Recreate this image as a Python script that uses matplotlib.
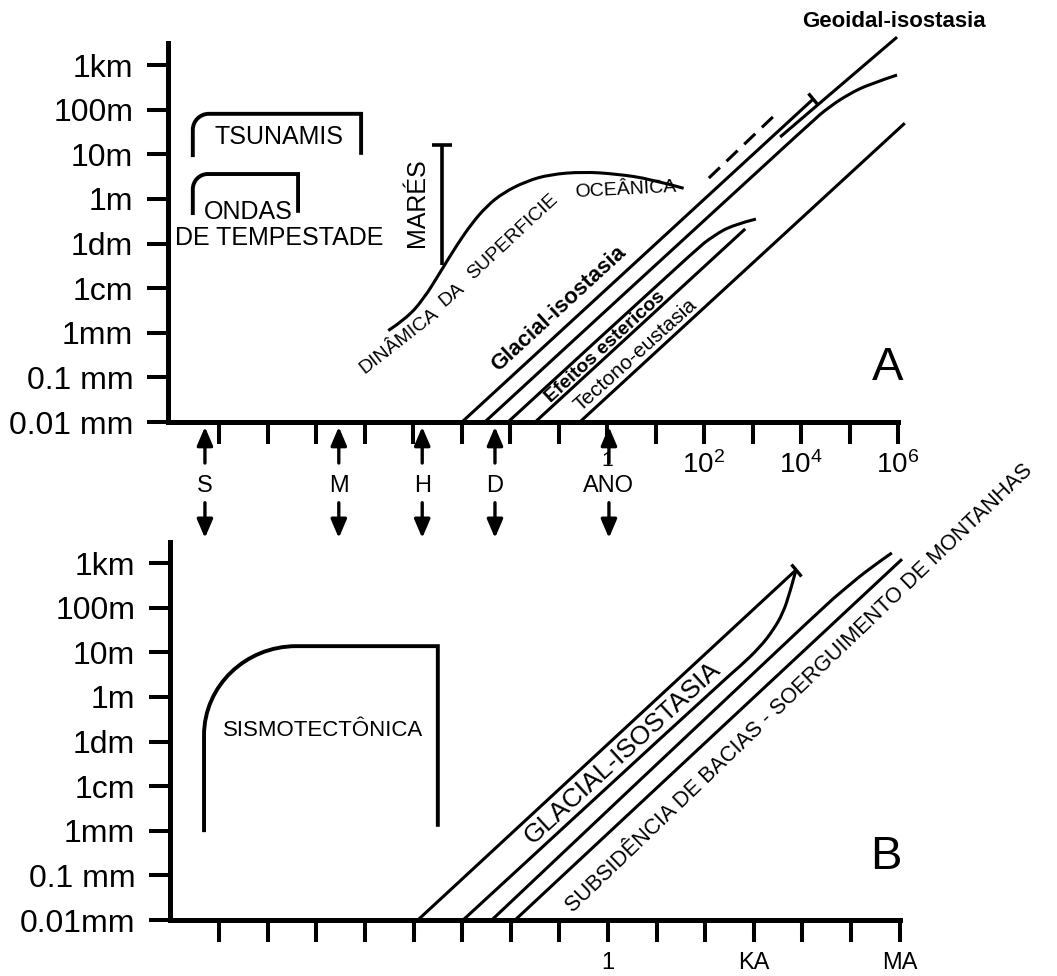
import numpy as np
import matplotlib.pyplot as plt
from matplotlib.path import Path
from matplotlib.patches import PathPatch
from matplotlib.markers import MarkerStyle
from matplotlib.transforms import Affine2D

plt.rcParams['font.family'] = ['Liberation Sans', 'DejaVu Sans']
plt.rcParams['mathtext.default'] = 'regular'

# x = decades of time in years (0 = 1 ano), y = decades of amplitude above 0.01 mm
y_labels_a = ['0.01 mm', '0.1 mm', '1mm', '1cm', '1dm', '1m', '10m', '100m', '1km']
y_labels_b = ['0.01mm', '0.1 mm', '1mm', '1cm', '1dm', '1m', '10m', '100m', '1km']
x_ticks = list(range(-8, 7))
x_labels_a = {0: '1', 2: '$10^2$', 4: '$10^4$', 6: '$10^6$'}
x_labels_b = {0: '1', 3: 'KA', 6: 'MA'}

time_names = ['S', 'M', 'H', 'D', 'ANO']
time_pos = [-8.29, -5.53, -3.81, -2.31, 0.04]

# panel A
tsunami_x = [-8.54, -5.07]
tsunami_y = [5.94, 6.91, 5.99]   # left foot, top, right foot
ondas_x = [-8.54, -6.37]
ondas_y = [4.64, 5.56, 4.69]
mares_x = -3.40
mares_y = [3.52, 6.21]
dinamica_x = [-4.51, -4.16, -3.79, -3.41, -3.10, -2.79, -2.48, -2.14, -1.66, -1.18, -0.49, 0.20, 0.89, 1.58]
dinamica_y = [2.05, 2.30, 2.74, 3.41, 3.96, 4.45, 4.84, 5.14, 5.40, 5.55, 5.61, 5.56, 5.45, 5.24]
glacial_a_x = [-2.99, 4.25]
glacial_a_y = [0.0, 7.24]
dashed_x = [2.10, 3.42]
dashed_y = [5.47, 6.84]
geoidal_x = [3.57, 5.98]
geoidal_y = [6.39, 8.63]
eustasia_x = [-2.52, 4.20, 4.60, 5.00, 5.40, 5.98]
eustasia_y = [0.0, 6.72, 7.08, 7.36, 7.57, 7.78]
esterico1_x = [-2.04, 1.80, 2.20, 2.60, 3.07]
esterico1_y = [0.0, 3.84, 4.18, 4.42, 4.55]
esterico2_x = [-1.48, 2.85]
esterico2_y = [0.0, 4.33]
tectono_x = [-0.56, 6.14]
tectono_y = [0.0, 6.70]

# panel B
sismo_x = [-8.31, -3.50]
sismo_y = [1.97, 6.14, 2.09]
glacial_b1_x = [-3.91, 3.87]
glacial_b1_y = [0.0, 7.85]
glacial_b2_x = [-2.98, 2.30, 2.72, 3.13, 3.40, 3.60, 3.74, 3.87]
glacial_b2_y = [0.0, 5.30, 5.69, 6.12, 6.50, 6.88, 7.33, 7.85]
bacias1_x = [-2.39, 4.36, 4.92, 5.39, 5.84]
bacias1_y = [0.0, 6.95, 7.47, 7.89, 8.23]
bacias2_x = [-1.91, 6.05]
bacias2_y = [0.0, 8.09]

LW = 2.2
K = 0.5523


def bracket(ax, xs, ys, rx, ry, lw=2.8):
    x0, x1 = xs
    yl, yt, yr = ys
    verts = [(x0, yl), (x0, yt - ry), (x0, yt - ry + K * ry), (x0 + rx - K * rx, yt),
             (x0 + rx, yt), (x1, yt), (x1, yr)]
    codes = [Path.MOVETO, Path.LINETO, Path.CURVE4, Path.CURVE4, Path.CURVE4,
             Path.LINETO, Path.LINETO]
    ax.add_patch(PathPatch(Path(verts, codes), fill=False, lw=lw, color='black',
                           capstyle='butt', clip_on=False))


def line(ax, xs, ys, lw=LW, **kw):
    ax.plot(xs, ys, color='black', lw=lw, clip_on=False, solid_capstyle='butt', **kw)


def smooth(ax, xs, ys, lw=LW):
    # quadratic bezier through the read points (points used as control points)
    pts = list(zip(xs, ys))
    verts = [pts[0]]
    codes = [Path.MOVETO]
    for i in range(1, len(pts) - 2):
        mid = ((pts[i][0] + pts[i + 1][0]) / 2, (pts[i][1] + pts[i + 1][1]) / 2)
        verts += [pts[i], mid]
        codes += [Path.CURVE3, Path.CURVE3]
    verts += [pts[-2], pts[-1]]
    codes += [Path.CURVE3, Path.CURVE3]
    ax.add_patch(PathPatch(Path(verts, codes), fill=False, lw=lw, color='black',
                           capstyle='butt', clip_on=False))


def tbar(ax, x, y, angle):
    m = MarkerStyle('|', transform=Affine2D().rotate_deg(angle))
    ax.plot([x], [y], marker=m, ms=11, mew=2.4, color='black', clip_on=False)


def style_axes(ax, ylabels, xlabels, xpad, xsize):
    for s in ['top', 'right']:
        ax.spines[s].set_visible(False)
    for s in ['left', 'bottom']:
        ax.spines[s].set_linewidth(3.6)
    ax.set_yticks(range(9))
    ax.set_yticklabels(ylabels)
    ax.set_xticks(x_ticks)
    ax.set_xticklabels([xlabels.get(t, '') for t in x_ticks])
    ax.tick_params(axis='y', direction='out', length=15, width=2.9, pad=10, labelsize=23)
    ax.tick_params(axis='x', direction='out', length=16, width=2.9, pad=xpad, labelsize=xsize)


fig = plt.figure(figsize=(10.57, 9.76), dpi=100)
ax_a = fig.add_axes([168 / 1057, 554 / 976, 730 / 1057, 379 / 976])
ax_a.set_xlim(6.0 - 730 / 48.5, 6.0)
ax_a.set_ylim(0, 379 / 44.6)
ax_b = fig.add_axes([170 / 1057, 56 / 976, 729.6 / 1057, 378 / 976])
ax_b.set_xlim(-9.01, 6.0)
ax_b.set_ylim(0, 378 / 44.6)

style_axes(ax_a, y_labels_a, x_labels_a, 5, 20)
style_axes(ax_b, y_labels_b, x_labels_b, 7, 17)
for lbl in ax_a.get_xticklabels():
    if lbl.get_text() == '1':
        lbl.set_fontsize(15)

# ---- panel A ----
bracket(ax_a, tsunami_x, tsunami_y, 0.33, 0.36)
bracket(ax_a, ondas_x, ondas_y, 0.31, 0.34)
ax_a.text(-6.76, 6.39, 'TSUNAMIS', fontsize=18, ha='center', va='center')
ax_a.text(-7.40, 4.71, 'ONDAS', fontsize=18, ha='center', va='center')
ax_a.text(-6.76, 4.13, 'DE TEMPESTADE', fontsize=18, ha='center', va='center')

line(ax_a, [mares_x, mares_x], mares_y, lw=2.6)
line(ax_a, [mares_x - 0.2, mares_x + 0.2], [mares_y[1]] * 2, lw=2.6)
ax_a.text(-3.92, 4.91, 'MARÉS', fontsize=18, rotation=90, ha='center', va='center')

smooth(ax_a, dinamica_x, dinamica_y)
for txt, x, y, r in [('DINÂMICA', -4.29, 1.82, 38), ('DA', -3.20, 2.85, 40),
                     ('SUPERFICIE', -1.94, 4.15, 43), ('OCEÂNICA', 0.39, 5.20, 3)]:
    ax_a.text(x, y, txt, fontsize=14, rotation=r, rotation_mode='anchor',
              ha='center', va='center')

line(ax_a, glacial_a_x, glacial_a_y)
tbar(ax_a, glacial_a_x[1], glacial_a_y[1], 42.9)
line(ax_a, dashed_x, dashed_y, linestyle=(0, (5, 3)))
line(ax_a, geoidal_x, geoidal_y)
smooth(ax_a, eustasia_x, eustasia_y)
smooth(ax_a, esterico1_x, esterico1_y)
line(ax_a, esterico2_x, esterico2_y)
line(ax_a, tectono_x, tectono_y)

ax_a.text(-0.99, 2.53, 'Glacial-isostasia', fontsize=16, fontweight='bold', rotation=42.6,
          rotation_mode='anchor', ha='center', va='center')
ax_a.text(-0.04, 1.68, 'Efeitos estericos', fontsize=14, fontweight='bold', rotation=42.6,
          rotation_mode='anchor', ha='center', va='center')
ax_a.text(0.58, 1.50, 'Tectono-eustasia', fontsize=15, rotation=42,
          rotation_mode='anchor', ha='center', va='center')
ax_a.text(5.92, 8.99, 'Geoidal-isostasia', fontsize=16, fontweight='bold',
          ha='center', va='center')
ax_a.text(5.79, 1.21, 'A', fontsize=34, ha='center', va='center')

# time scale arrows between the panels
head = '-|>,head_length=0.7,head_width=0.3'
for name, xp in zip(time_names, time_pos):
    ax_a.annotate('', xy=(xp, -0.11), xytext=(xp, -0.92), annotation_clip=False,
                  arrowprops=dict(arrowstyle=head, lw=2.4, color='black',
                                  shrinkA=0, shrinkB=0, mutation_scale=16))
    ax_a.annotate('', xy=(xp, -2.6), xytext=(xp, -1.81), annotation_clip=False,
                  arrowprops=dict(arrowstyle=head, lw=2.4, color='black',
                                  shrinkA=0, shrinkB=0, mutation_scale=16))
    ax_a.text(xp, -1.43, name, fontsize=17, ha='center', va='center')

# ---- panel B ----
bracket(ax_b, sismo_x, sismo_y, 1.9, 2.0)
ax_b.text(-5.86, 4.26, 'SISMOTECTÔNICA', fontsize=16, ha='center', va='center')

line(ax_b, glacial_b1_x, glacial_b1_y)
smooth(ax_b, glacial_b2_x, glacial_b2_y)
tbar(ax_b, glacial_b1_x[1], glacial_b1_y[1], 42.9)
smooth(ax_b, bacias1_x, bacias1_y)
line(ax_b, bacias2_x, bacias2_y)

ax_b.text(0.29, 3.74, 'GLACIAL-ISOSTASIA', fontsize=19, rotation=42.6,
          rotation_mode='anchor', ha='center', va='center')
ax_b.text(-0.72, 0.16, 'SUBSIDÊNCIA DE BACIAS - SOERGUIMENTO DE MONTANHAS', fontsize=15.5,
          rotation=43.8, rotation_mode='anchor', ha='left', va='baseline')
ax_b.text(5.72, 1.41, 'B', fontsize=34, ha='center', va='center')

fig.savefig('out.png', dpi=100, facecolor='white')
